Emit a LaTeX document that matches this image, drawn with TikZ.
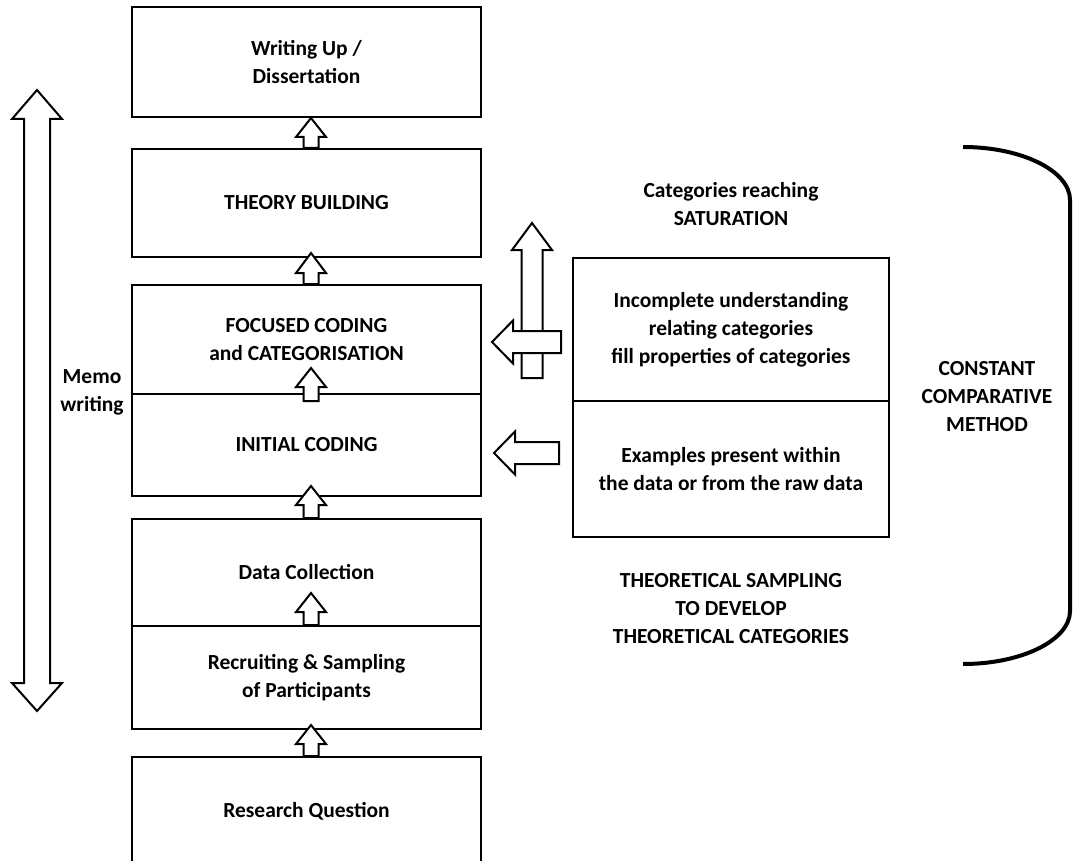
\documentclass[tikz,border=0pt]{standalone}
\usepackage{fontspec}
\setmainfont{Carlito}
\usetikzlibrary{calc}

% label font: bold, 21.5pt on a 28pt line
\newcommand\lbl{\fontsize{21.5}{28}\selectfont\bfseries}

% hollow block arrow pointing up: #1 base, #2 tip, #3 shaft half width, #4 head half width, #5 head length
\newcommand{\uparrowblk}[5]{%
  \draw[blk] let \p1=#1, \p2=#2 in
    (\x1-#3pt,\y1) -- (\x1-#3pt,\y2-#5pt) -- (\x1-#4pt,\y2-#5pt) -- (\x1,\y2)
    -- (\x1+#4pt,\y2-#5pt) -- (\x1+#3pt,\y2-#5pt) -- (\x1+#3pt,\y1) -- cycle;}

% hollow block arrow pointing left: #1 tail, #2 tip, #3 body half width, #4 head half width, #5 head length
\newcommand{\leftarrowblk}[5]{%
  \draw[blk] let \p1=#1, \p2=#2 in
    (\x1,\y1+#3pt) -- (\x2+#5pt,\y1+#3pt) -- (\x2+#5pt,\y1+#4pt) -- (\x2,\y1)
    -- (\x2+#5pt,\y1-#4pt) -- (\x2+#5pt,\y1-#3pt) -- (\x1,\y1-#3pt) -- cycle;}

\begin{document}
\begin{tikzpicture}[x=1pt,y=-1pt,
  stage/.style={draw, line width=2pt, minimum width=349pt, inner sep=0pt, align=center, font=\lbl},
  side/.style={draw, line width=2pt, minimum width=316pt, inner sep=0pt, align=center, font=\lbl},
  caption/.style={align=center, font=\lbl, inner sep=0pt},
  blk/.style={draw, fill=white, line width=2pt, line join=miter},
  bracket/.style={line width=4pt}]
\useasboundingbox (0,0) rectangle (1075,861);
\clip (0,0) rectangle (1075,861);

% main process column
\node[stage, minimum height=110pt] (W) at (306.5,62)    {Writing Up /\\Dissertation};
\node[stage, minimum height=108pt] (T) at (306.5,203)   {THEORY BUILDING};
\node[stage, minimum height=109pt] (F) at (306.5,339.5) {FOCUSED CODING\\and CATEGORISATION};
\node[stage, minimum height=102pt] (I) at (306.5,445)   {INITIAL CODING};
\node[stage, minimum height=107pt] (D) at (306.5,572.5) {Data Collection};
\node[stage, minimum height=103pt] (R) at (306.5,677.5) {Recruiting \& Sampling\\of Participants};
\node[stage, minimum height=108pt] (Q) at (306.5,811)   {Research Question};

% comparison boxes
\node[side, minimum height=143pt] (U) at (731,329.5) {Incomplete understanding\\relating categories\\fill properties of categories};
\node[side, minimum height=136pt] (E) at (731,469)   {Examples present within\\the data or from the raw data};

% free labels
\node[caption] (memo) at (92,392)    {Memo\\writing};
\node[caption] (sat)  at (731,204.5) {Categories reaching\\SATURATION};
\node[caption] (ts)   at (731,609)   {THEORETICAL SAMPLING\\TO DEVELOP\\THEORETICAL CATEGORIES};
\node[caption] (ccm)  at (987,397)   {CONSTANT\\COMPARATIVE\\METHOD};

% small arrows between stages
\uparrowblk{($(T.north)+(4.5,0)$)}{($(W.south)+(4.5,0)$)}{7.5}{15}{19}
\uparrowblk{($(F.north)+(4.5,0)$)}{($(T.south)+(4.5,-5)$)}{7.5}{15}{20}
\uparrowblk{($(I.north)+(4.5,8)$)}{($(F.north)+(4.5,84)$)}{7.5}{15}{19}
\uparrowblk{($(D.north)+(4.5,0)$)}{($(I.south)+(4.5,-11)$)}{7.5}{15}{19}
\uparrowblk{($(R.north)+(4.5,0)$)}{($(D.north)+(4.5,75)$)}{7.5}{15}{19}
\uparrowblk{($(Q.north)+(4.5,0)$)}{($(R.south)+(4.5,-5)$)}{7.5}{15}{19}

% memo writing: two-headed arrow
\coordinate (memotop) at (37,90);
\coordinate (memobot) at (37,711);
\draw[blk] let \p1=(memotop), \p2=(memobot) in
  (\x1,\y1) -- (\x1+25pt,\y1-29pt) -- (\x1+13pt,\y1-29pt) -- (\x1+13pt,\y2+28pt)
  -- (\x1+25pt,\y2+28pt) -- (\x2,\y2) -- (\x1-25pt,\y2+28pt) -- (\x1-13pt,\y2+28pt)
  -- (\x1-13pt,\y1-29pt) -- (\x1-25pt,\y1-29pt) -- cycle;

% saturation arrow and feedback arrows
\coordinate (satbase) at (532,378);
\coordinate (sattip)  at (532,223);
\uparrowblk{(satbase)}{(sattip)}{10.5}{20}{27}
\coordinate (fbtail1) at (561,342);
\coordinate (fbtip1)  at (492,342);
\leftarrowblk{(fbtail1)}{(fbtip1)}{11}{21.5}{21}
\coordinate (fbtail2) at (559,453);
\coordinate (fbtip2)  at (494,453);
\leftarrowblk{(fbtail2)}{(fbtip2)}{11}{21.5}{21}

% bracket enclosing the constant comparative method
\coordinate (brtop) at (963,147);
\coordinate (brbot) at (963,664);
\draw[bracket] (brtop) .. controls (1022,147) and (1070,171) .. (1070,200)
  -- (1070,611) .. controls (1070,640) and (1022,664) .. (brbot);
\end{tikzpicture}
\end{document}
